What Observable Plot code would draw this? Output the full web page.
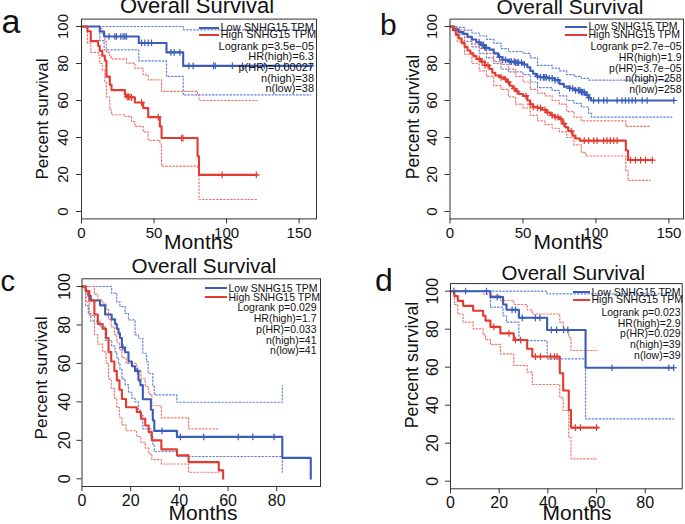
<!DOCTYPE html>
<html><head><meta charset="utf-8">
<script src="https://cdn.jsdelivr.net/npm/d3@7"></script>
<script src="https://cdn.jsdelivr.net/npm/@observablehq/plot@0.6"></script>
<style>
body{margin:0;background:#fff;}
#root{position:relative;width:685px;height:524px;overflow:hidden;font-family:"Liberation Sans",Arial,sans-serif;color:#111;background:#fff;}
.t{position:absolute;white-space:nowrap;line-height:0.9;}
.sw{position:absolute;height:2px;}
</style></head><body><div id="root"></div>
<script>
// ---------- data (months, percent survival) ----------
const Y_TICKS = [0, 20, 40, 60, 80, 100];
const X_TICKS_AB = [0, 50, 100, 150];
const X_TICKS_CD = [0, 20, 40, 60, 80];

// Panel a
const aLow = [[0,100],[12.6,97.3],[15.6,94.6],[39.5,91.1],[58.6,86],[70.1,78.7],[158,78.7]];
const aLowCens = [18.9,23,24.1,27.1,28.7,29.9,31,41.4,43.7,46,48.3,61.6,63.9,67.8,74,77,91,92.2,104,111,126,140,158];
const aLowUp = [[0,100],[70.1,98.2],[158,98.2]];
const aLowLo = [[0,100],[12.6,92.4],[15.6,87.4],[39.5,81.4],[58.6,73],[70.1,63],[158,63]];
const aHigh = [[0,100],[4.1,97.4],[6.4,92.1],[11.5,89.5],[12.6,86.8],[14.3,84.2],[16.1,81.6],[17.2,72.9],[19.5,68.5],[20.7,65.6],[29.9,63.2],[31,62],[34.5,61.7],[36.8,58.9],[42.5,55.9],[46,51],[54,46],[55.2,39.7],[80,29.8],[81,19.8],[121,19.8]];
const aHighCens = [31.5,32.3,33.3,34.5,41.4,52.9,69,70,97,120.5];
const aHighUp = [[0,100],[12.6,99],[14.3,96],[16.1,92],[17.2,86],[19.5,83.5],[20.7,82.5],[31,80.2],[36.8,77.5],[42.5,73.9],[46,71.2],[55.2,64.9],[80,63],[81,60],[121,60]];
const aHighLo = [[0,100],[4.1,91],[6.4,86],[11.5,84.6],[12.6,80],[14.3,76.6],[16.1,70],[17.2,62],[19.5,55],[20.7,52.3],[29.9,51.4],[34.5,48.6],[36.8,46],[42.5,43],[46,38.5],[54,36.5],[55.2,24.5],[80,24],[81,6.5],[121,6.5]];

// Panel b
const bLow = [[0,100],[3,98.5],[6,97],[9,96],[12,94.5],[15,93],[18,91.5],[21,90],[24,88.5],[27,87.5],[30,85.5],[33,83.5],[36,82],[40,81],[45,80.5],[50,79.5],[53,78],[55,76],[57,74.5],[59,73],[62,72.5],[67,72],[72,71],[75,69],[78,67.5],[82,66.5],[86,65.5],[90,64.5],[93,63],[95,61.5],[96.5,60],[153.4,60]];
const bLowCens = [20,22,23,24,25,34,36,38,41,42,44,45,46,47,49,51,60,62,64,65,66,68,70,72,74,82,84,86,88,89,90,91,92,94,95,98.4,101.8,105.3,107.6,114.5,117.9,120.2,122.5,124.8,127.1,131.7,135.1,153.4];
const bLowUp = [[0,100],[5,99.5],[10,98],[15,96.5],[20,95],[25,93],[30,91],[35,88],[40,86.5],[50,85.5],[55,83],[60,79],[70,77.5],[75,76],[80,74],[85,73],[90,72],[95,71],[152,71]];
const bLowLo = [[0,100],[5,96],[10,92],[15,89],[20,85.5],[25,83],[30,80],[35,77],[40,75.5],[50,74],[55,70],[60,67],[70,65.5],[75,62.5],[80,60],[85,58.5],[90,56.5],[95,53],[97,51],[152,51]];
const bHigh = [[0,100],[2,98],[4,95.5],[6,93.5],[8,91],[10,89],[12,87],[14,85.5],[16,84],[18,82.5],[21,81],[24,79],[27,77],[29,75],[31,73.5],[34,72.5],[37,71.5],[39,70],[41,68],[43,66.5],[45,65],[47,63.5],[50,62.5],[53,60],[55,58],[57,56.5],[60,56],[63,55],[66,53.5],[69,52],[72,51],[75,50],[77,47.5],[79,45.5],[81,43.5],[84,41],[86,39.5],[89,38.3],[120.5,33],[122,27.8],[138.6,27.8]];
const bHighCens = [20,22,24,26,35,38,40,44,46,52,55,57,60,62,65,67,70,72,74,76,78,83,92,95,98.5,100.8,105.3,107.6,109.9,112.2,114.5,123.7,127.1,130.6,134,138.6];
const bHighUp = [[0,100],[5,98],[10,94],[15,90.5],[20,88],[25,85.5],[30,81],[35,79.5],[40,77],[45,73],[50,70],[55,66],[60,64],[65,62.5],[70,60],[75,58],[80,54],[85,51],[90,49],[120.5,46],[137,46]];
const bHighLo = [[0,100],[5,92],[10,85],[15,80],[20,76],[25,73],[30,68],[35,66],[40,62],[45,58],[50,56],[55,52],[60,49],[65,47],[70,45],[75,43],[80,40],[85,36],[90,32],[93,30],[120.5,22],[122,16.8],[137,16.8]];

// Panel c
const cLow = [[0,100],[1.5,97.6],[2.6,95.1],[3.6,92.7],[7.4,90.2],[9.5,85.4],[12.2,82.9],[13.6,80.5],[14.3,78.0],[15.0,75.6],[15.6,73.2],[16.4,68.3],[17.7,65.8],[19.1,61.0],[20.5,58.5],[21.8,56.1],[23.2,51.2],[24.0,48.7],[25.0,41.4],[28.3,35.9],[29.1,30.4],[29.7,24.9],[39.0,21.8],[82.3,10.9],[94,0]];
const cLowCens = [16.8,22.8,32.9,40.4,50,64.2,70.2,78.9];
const cLowUp = [[0,100],[12.2,96.5],[14.3,92],[15.6,89.6],[17.7,86],[19.1,82.6],[21.8,74.8],[23.2,73.1],[25,65.3],[26.5,60.9],[27.2,54.9],[29.1,48],[29.7,43.6],[39,39.8],[82.3,48.5]];
const cLowLo = [[0,100],[1.5,90],[2.6,86],[3.6,82],[7.4,79],[9.5,72],[12.2,69],[13.6,66],[14.3,63],[15,60],[15.6,57],[16.4,52],[17.7,49],[19.1,45],[20.5,42],[21.8,40],[23.2,36],[24,33],[25,26],[28.3,22],[29.1,18],[29.7,14.2],[39,11.6],[82.3,3.4]];
const cHigh = [[0,100],[1.6,97.6],[3.0,92.7],[5.1,85.4],[6.5,80.5],[8.5,78.0],[9.9,73.2],[10.9,65.9],[12.0,61.0],[13.3,56.1],[14.3,51.2],[15.4,46.3],[16.4,41.5],[18.1,37.2],[22.5,34.7],[24.2,31.2],[26.0,27.7],[27.4,24.3],[28.7,20.0],[32.6,15.3],[39.0,12.2],[43.8,8.7],[56.2,4.4],[58.0,0]];
const cHighCens = [];
const cHighUp = [[0,100],[3,100],[5.1,96],[6.5,93],[8.5,91],[9.9,88],[10.9,83],[12,79],[13.3,75],[14.3,71],[15.4,67],[16.4,63],[18.1,60],[22.5,56],[24.2,52],[26,48],[27.4,44],[28.7,38],[32.6,31.7],[43.8,26],[56.2,26]];
const cHighLo = [[0,100],[1.6,92],[3,85],[5.1,75],[6.5,70],[8.5,66],[9.9,60],[10.9,52],[12,47],[13.3,42],[14.3,37],[15.4,32],[16.4,28],[18.1,25],[22.5,22],[24.2,19],[26,16],[27.4,13],[28.7,10],[32.6,7.7],[43.8,3.4],[56.2,3.4]];

// Panel d
const dLow = [[0,100],[16.4,96.9],[21.6,93],[23,90.2],[28.1,86],[39.7,79.6],[55.5,59.7],[91.7,59.7]];
const dLowCens = [1.4,6.2,14.8,19.2,25.3,26.7,29.5,34.9,36.7,41.4,43.6,46.5,48.2,66.4,89.7,91.7];
const dLowUp = [[0,100],[39.7,98.6],[91.7,98.6]];
const dLowLo = [[0,100],[16.4,91.6],[21.6,87],[23,83.7],[28.1,74],[39.7,64.4],[55.5,32.8],[91.7,32.8]];
const dHigh = [[0,100],[1.6,97.4],[3,94.9],[5.2,92.3],[9.3,89.7],[13.4,87.1],[14.4,84.5],[16.4,81.2],[20.5,77.8],[26,74.3],[31.5,69.7],[33.6,65.6],[44.9,56.8],[46.3,47.7],[48.6,37.5],[49.5,28.2],[60.5,28.2]];
const dHighCens = [17.8,24,26.7,28.8,34.9,37,41.1,42.7,43.8,51.3,53.4,60];
const dHighUp = [[0,100],[13.4,98.5],[16.4,97.7],[20.5,95.1],[26,93],[31.5,90.2],[33.6,88],[44.9,83.7],[46.3,80],[48.6,75.8],[49.5,68.8],[60.5,68.8]];
const dHighLo = [[0,100],[1.6,93],[3,88],[5.2,83.7],[9.3,80.2],[13.4,77],[14.4,74.5],[16.4,72],[20.5,67],[26,60.9],[31.5,57.4],[33.6,50.9],[44.9,44],[46.3,37.2],[48.6,23.1],[49.5,11.8],[60.5,11.8]];

// text
const TITLE = "Overall Survival";
const XLAB = "Months";
const YLAB = "Percent survival";
const LEG_LOW = "Low SNHG15 TPM";
const LEG_HIGH = "High SNHG15 TPM";
const aStats = ["Logrank p=3.5e\u221205", "HR(high)=6.3", "p(HR)=0.00027", "n(high)=38", "n(low)=38"];
const bStats = ["Logrank p=2.7e\u221205", "HR(high)=1.9", "p(HR)=3.7e\u221205", "n(high)=258", "n(low)=258"];
const cStats = ["Logrank p=0.029", "HR(high)=1.7", "p(HR)=0.033", "n(high)=41", "n(low)=41"];
const dStats = ["Logrank p=0.023", "HR(high)=2.9", "p(HR)=0.029", "n(high)=39", "n(low)=39"];

// ---------- styling ----------
const FONT = "Liberation Sans, Arial, sans-serif";
const BLUE = "#3b5cb8", RED = "#e53a30", BLUE_CI = "#6283dc", RED_CI = "#f2766c";
const root = document.getElementById("root");

function survAt(steps, t) {
  let v = steps[0][1];
  for (const [x, y] of steps) { if (x <= t) v = y; else break; }
  return v;
}

function panel(p) {
  const line = (data, stroke, ci) => Plot.line(data, {x: d => d[0], y: d => d[1], curve: "step-after", stroke,
    strokeWidth: ci ? 1.2 : 2.1, strokeDasharray: ci ? "1.5,2" : null});
  const svg = Plot.plot({
    width: p.w, height: p.h,
    marginLeft: p.ml, marginRight: p.mr, marginTop: p.mt, marginBottom: p.mb,
    x: {domain: [0, p.xMax]},
    y: {domain: [-4, 104]},
    style: {background: "transparent", overflow: "visible", fontFamily: FONT, color: "#111"},
    marks: [
      line(p.lowUp, BLUE_CI, true), line(p.lowLo, BLUE_CI, true),
      line(p.highUp, RED_CI, true), line(p.highLo, RED_CI, true),
      line(p.low, BLUE, false), line(p.high, RED, false),
      Plot.dot(p.lowCens, {x: d => d, y: d => survAt(p.low, d), symbol: "plus", r: 2.3, stroke: BLUE, strokeWidth: 1.2}),
      Plot.dot(p.highCens, {x: d => d, y: d => survAt(p.high, d), symbol: "plus", r: 2.3, stroke: RED, strokeWidth: 1.2}),
      Plot.frame({stroke: "#333", strokeWidth: 1}),
      Plot.axisX({ticks: p.xTicks, tickSize: 5, tickPadding: 3, fontSize: p.fs, label: null, stroke: "#333", fill: "#111"}),
      Plot.axisY({ticks: Y_TICKS, tickSize: 5, tickFormat: () => "", label: null, stroke: "#333"}),
      Plot.text(Y_TICKS, {frameAnchor: "left", y: d => d, text: d => String(d), rotate: -90, dx: -p.ydx,
        fontSize: p.fs, textAnchor: "middle", lineAnchor: "middle", fill: "#111"})
    ]
  });
  svg.style.position = "absolute";
  svg.style.left = p.left + "px";
  svg.style.top = p.top + "px";
  root.appendChild(svg);
}

function txt(s, o) {
  const el = document.createElement("div");
  el.className = "t";
  el.textContent = s;
  el.style.fontSize = o.size + "px";
  if (o.rot) {
    el.style.left = o.cx + "px"; el.style.top = o.cy + "px";
    el.style.transform = "translate(-50%,-50%) rotate(-90deg)";
  } else {
    const top = o.baseline - 0.7965 * o.size;
    el.style.top = top + "px";
    if (o.anchor === "middle") { el.style.left = o.x + "px"; el.style.transform = "translateX(-50%)"; }
    else if (o.anchor === "end") { el.style.right = (685 - o.x) + "px"; }
    else { el.style.left = o.x + "px"; }
  }
  root.appendChild(el);
}
function center(s, x, cy, size, anchor) { txt(s, {x, baseline: cy + 0.36 * size, size, anchor}); }
function swatch(x1, x2, cy, color) {
  const el = document.createElement("div");
  el.className = "sw";
  el.style.left = x1 + "px"; el.style.width = (x2 - x1) + "px"; el.style.top = (cy - 1) + "px";
  el.style.background = color;
  root.appendChild(el);
}
function annotate(q, stats) {
  txt(q.letter, {x: q.lx, baseline: q.lb, size: q.ls});
  txt(TITLE, {x: q.tx, baseline: q.tb, size: q.ts, anchor: "middle"});
  txt(XLAB, {x: q.mx, baseline: q.mbl, size: 21, anchor: "middle"});
  txt(YLAB, {rot: true, cx: q.yx, cy: q.yy, size: q.ys});
  swatch(q.s1, q.s2, q.r1, BLUE);
  swatch(q.s1, q.s2, q.r2, RED);
  center(LEG_LOW, q.s2 + 1.5, q.r1, q.fs, "start");
  center(LEG_HIGH, q.s2 + 1.5, q.r2, q.fs, "start");
  stats.forEach((s, i) => center(s, q.right, q.st0 + i * q.step, q.fs, "end"));
}

panel({low: aLow, high: aHigh, lowUp: aLowUp, lowLo: aLowLo, highUp: aHighUp, highLo: aHighLo, lowCens: aLowCens, highCens: aHighCens,
  xMax: 162, xTicks: X_TICKS_AB, w: 342, h: 255, ml: 81, mr: 26, mt: 18.6, mb: 36.6, left: 0, top: 0, fs: 15, ydx: 18});
panel({low: bLow, high: bHigh, lowUp: bLowUp, lowLo: bLowLo, highUp: bHighUp, highLo: bHighLo, lowCens: bLowCens, highCens: bHighCens,
  xMax: 160, xTicks: X_TICKS_AB, w: 343, h: 255, ml: 107.5, mr: 2, mt: 18.6, mb: 36.6, left: 342, top: 0, fs: 15, ydx: 18});
panel({low: cLow, high: cHigh, lowUp: cLowUp, lowLo: cLowLo, highUp: cHighUp, highLo: cHighLo, lowCens: cLowCens, highCens: cHighCens,
  xMax: 98, xTicks: X_TICKS_CD, w: 342, h: 269, ml: 81.5, mr: 22, mt: 23.3, mb: 38, left: 0, top: 255, fs: 16, ydx: 17});
panel({low: dLow, high: dHigh, lowUp: dLowUp, lowLo: dLowLo, highUp: dHighUp, highLo: dHighLo, lowCens: dLowCens, highCens: dHighCens,
  xMax: 95.2, xTicks: X_TICKS_CD, w: 343, h: 269, ml: 108, mr: 3.3, mt: 28.1, mb: 35.7, left: 342, top: 255, fs: 16, ydx: 18});

annotate({letter: "a", lx: 1.5, lb: 33.3, ls: 34, tx: 197, tb: 13.5, ts: 22, mx: 198.5, mbl: 250, yx: 42.6, yy: 118.5, ys: 17,
  s1: 199, s2: 219, r1: 28.3, r2: 34.7, fs: 11, right: 314, st0: 46.5, step: 10.7}, aStats);
annotate({letter: "b", lx: 380, lb: 34.5, ls: 30, tx: 570, tb: 14.5, ts: 21, mx: 568, mbl: 250, yx: 414, yy: 117, ys: 17.5,
  s1: 565, s2: 587, r1: 26.5, r2: 35, fs: 10.5, right: 681.5, st0: 46.7, step: 10.7}, bStats);
annotate({letter: "c", lx: 0.5, lb: 291.5, ls: 29, tx: 204, tb: 273, ts: 20.7, mx: 203, mbl: 521, yx: 42, yy: 378, ys: 17.3,
  s1: 205, s2: 227, r1: 288.3, r2: 297.3, fs: 10.5, right: 316.5, st0: 307.7, step: 10.8}, cStats);
annotate({letter: "d", lx: 375, lb: 291.5, ls: 32, tx: 573.3, tb: 280, ts: 20.5, mx: 577, mbl: 521, yx: 412, yy: 365, ys: 17.8,
  s1: 573, s2: 590, r1: 292.3, r2: 300, fs: 10.5, right: 680.5, st0: 312.3, step: 10.8}, dStats);
</script></body></html>
